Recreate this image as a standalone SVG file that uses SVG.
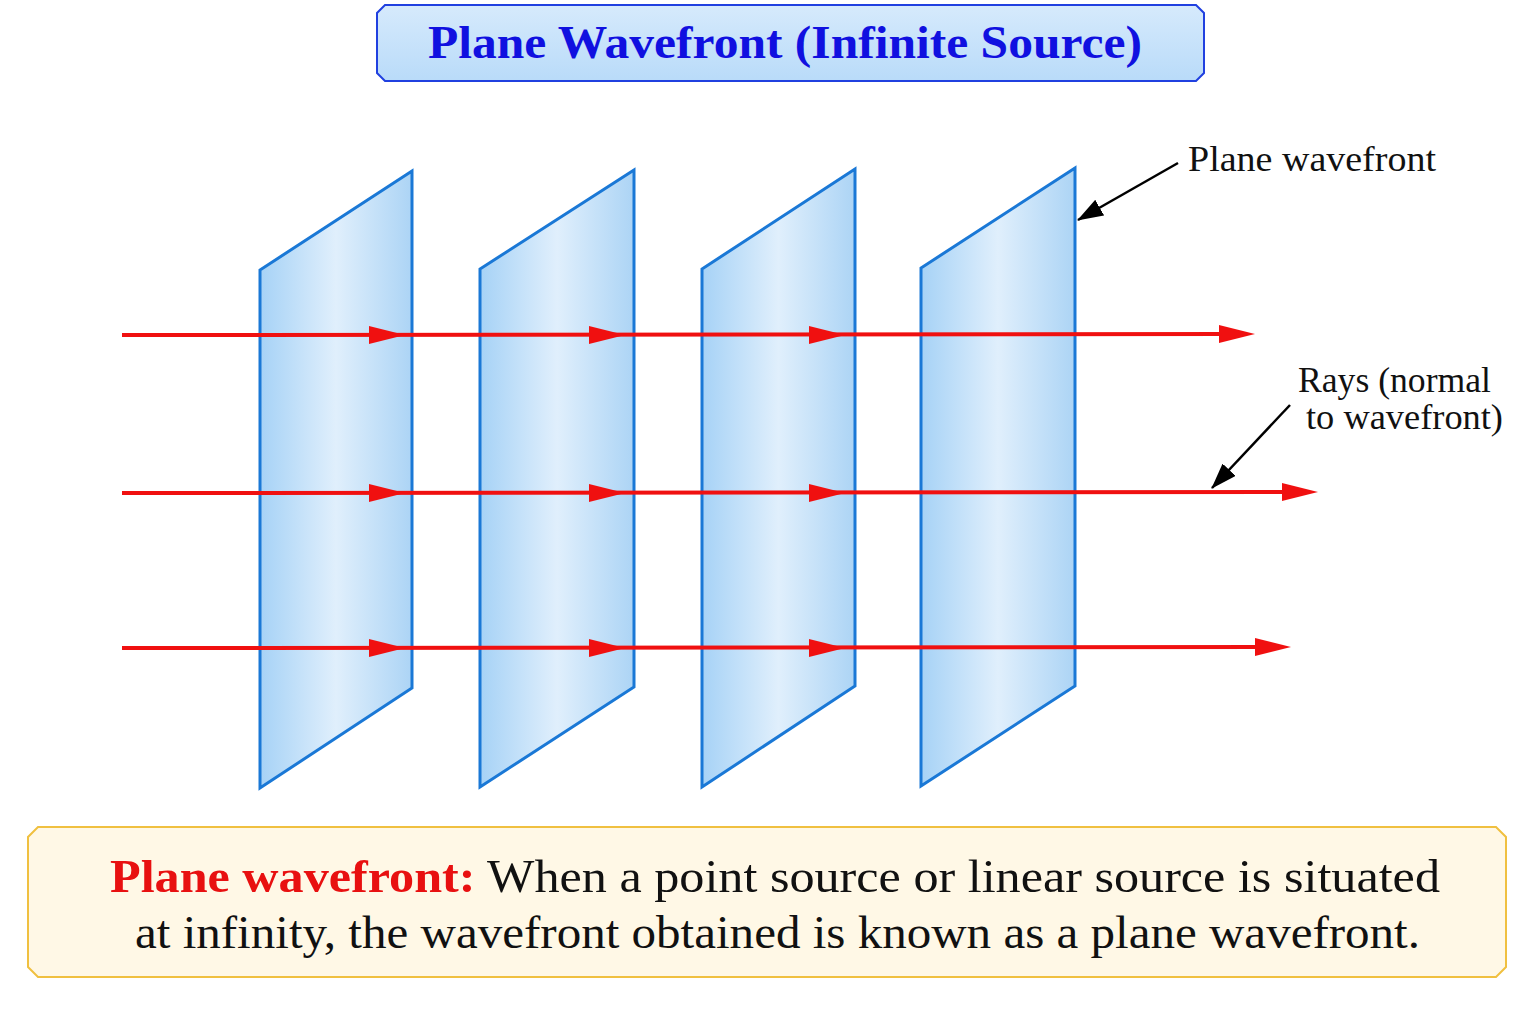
<svg xmlns="http://www.w3.org/2000/svg" width="1536" height="1024" viewBox="0 0 1536 1024">
<style>
.pl{fill:url(#pg);stroke:#1a78d6;stroke-width:3}
.ray{stroke:#f01010;stroke-width:4;fill:none}
.lead{stroke:#000;stroke-width:2.5;fill:none}
.lbl{font-family:"Liberation Serif",serif;font-size:36px;fill:#111}
.bt{font-family:"Liberation Serif",serif;font-size:46px;fill:#111}
</style>
<defs>
<linearGradient id="pg" x1="0" y1="0" x2="1" y2="0">
<stop offset="0" stop-color="#a6d2f6"/><stop offset="0.5" stop-color="#e0effc"/><stop offset="1" stop-color="#acd4f5"/>
</linearGradient>
<linearGradient id="tg" x1="0" y1="0" x2="0" y2="1">
<stop offset="0" stop-color="#d6eafc"/><stop offset="1" stop-color="#b9dbf9"/>
</linearGradient>
<marker id="ba" markerWidth="26" markerHeight="18" refX="25" refY="9" orient="auto" markerUnits="userSpaceOnUse">
<path d="M0,0 L26,9 L0,18 Z" fill="#000"/></marker>
<path id="rh" d="M-36,-9 L0,0 L-36,9 Z" fill="#f01010"/>
</defs>
<rect width="1536" height="1024" fill="#fff"/>
<g id="title">
<path d="M385,5 H1196 L1204,13 V73 L1196,81 H385 L377,73 V13 Z" fill="url(#tg)" stroke="#2040e0" stroke-width="2"/>
<text x="785" y="58" text-anchor="middle" textLength="714" lengthAdjust="spacingAndGlyphs" font-family="Liberation Serif,serif" font-size="46" font-weight="bold" fill="#1010e0">Plane Wavefront (Infinite Source)</text>
</g>
<g id="planes">
<path class="pl" d="M260,788 V270 L412,171 V688 Z"/>
<path class="pl" d="M480,787 V269 L634,170 V687 Z"/>
<path class="pl" d="M702,787 V269 L855,169 V686 Z"/>
<path class="pl" d="M921,786 V268 L1075,168 V686 Z"/>
</g>
<g id="connectors">
<line class="ray" x1="122" y1="335" x2="1225" y2="334"/>
<line class="ray" x1="122" y1="493" x2="1290" y2="492"/>
<line class="ray" x1="122" y1="648" x2="1262" y2="647"/>
<use href="#rh" x="1255" y="334"/><use href="#rh" x="1318" y="492"/><use href="#rh" x="1291" y="647"/>
<use href="#rh" x="405" y="335"/><use href="#rh" x="625" y="335"/><use href="#rh" x="845" y="335"/>
<use href="#rh" x="405" y="493"/><use href="#rh" x="625" y="493"/><use href="#rh" x="845" y="493"/>
<use href="#rh" x="405" y="648"/><use href="#rh" x="625" y="648"/><use href="#rh" x="845" y="648"/>
<line class="lead" x1="1178" y1="163" x2="1078" y2="220" marker-end="url(#ba)"/>
<line class="lead" x1="1290" y1="405" x2="1212" y2="488" marker-end="url(#ba)"/>
</g>
<g id="labels">
<text class="lbl" x="1188" y="171" textLength="248" lengthAdjust="spacingAndGlyphs">Plane wavefront</text>
<text class="lbl" x="1298" y="392" font-size="34" textLength="193" lengthAdjust="spacingAndGlyphs">Rays (normal</text>
<text class="lbl" x="1306" y="429" font-size="34" textLength="197" lengthAdjust="spacingAndGlyphs">to wavefront)</text>
</g>
<g id="definition">
<path d="M38,827 H1496 L1506,837 V967 L1496,977 H38 L28,967 V837 Z" fill="#fff8e6" stroke="#f0c040" stroke-width="2"/>
<text class="bt" x="110" y="892" textLength="1330" lengthAdjust="spacingAndGlyphs"><tspan fill="#e81010" font-weight="bold">Plane wavefront:</tspan> When a point source or linear source is situated</text>
<text class="bt" x="135" y="948" textLength="1285" lengthAdjust="spacingAndGlyphs">at infinity, the wavefront obtained is known as a plane wavefront.</text>
</g>
</svg>
